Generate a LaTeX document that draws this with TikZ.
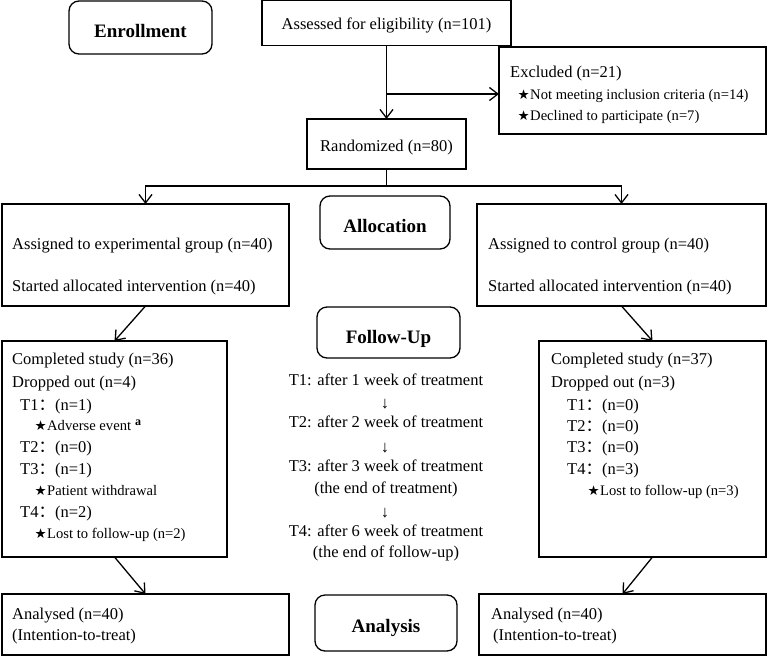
\documentclass[tikz,border=0pt]{standalone}
\usepackage{fontspec}
\setmainfont{Liberation Serif}
\newfontfamily\symf{DejaVu Sans}
\newfontfamily\cjkf{Noto Sans CJK SC}
\usetikzlibrary{arrows.meta}
\newcommand\mystar{\makebox[12pt][l]{\hspace{-0.5pt}\symf\fontsize{13.5}{13.5}\selectfont ★}}
\newcommand\fc{{\cjkf ：}}
\begin{document}
\begin{tikzpicture}[x=1pt,y=-1pt,
  box/.style={draw, line width=1.3pt, inner sep=0pt, outer sep=0pt, anchor=north west},
  rbox/.style={box, rounded corners=10pt},
  txt/.style={anchor=base west, inner sep=0pt, font=\fontsize{16.5}{19}\selectfont},
  stxt/.style={anchor=base west, inner sep=0pt, font=\fontsize{14.6}{17}\selectfont},
  ctxt/.style={anchor=base, inner sep=0pt, font=\fontsize{16.5}{19}\selectfont},
  btxt/.style={anchor=base, inner sep=0pt, font=\bfseries\fontsize{19}{22}\selectfont},
  conn/.style={line width=1.3pt},
  arr/.style={conn, -{Straight Barb[length=8.5pt,width=13pt,line width=1.3pt]}}]
\useasboundingbox (0,0) rectangle (770,656);
% boxes
\node[rbox, minimum width=143pt, minimum height=53pt] (enr) at (69,1) {};
\node[box, minimum width=249pt, minimum height=45pt] (ass) at (262,0.7) {};
\node[box, minimum width=267pt, minimum height=87pt] (exc) at (499,47) {};
\node[box, minimum width=159pt, minimum height=50pt] (ran) at (307,119) {};
\node[box, minimum width=287pt, minimum height=102pt] (exp) at (2,204) {};
\node[rbox, minimum width=130pt, minimum height=53pt] (alo) at (320,196) {};
\node[box, minimum width=289pt, minimum height=102pt] (ctl) at (477,204) {};
\node[rbox, minimum width=143pt, minimum height=51pt] (fol) at (317,307) {};
\node[box, minimum width=225pt, minimum height=216pt] (cl) at (2,341) {};
\node[box, minimum width=227pt, minimum height=216pt] (cr) at (539,341) {};
\node[box, minimum width=287pt, minimum height=61pt] (al) at (2,594) {};
\node[rbox, minimum width=142pt, minimum height=56pt] (ana) at (315,595) {};
\node[box, minimum width=287pt, minimum height=61pt] (ar) at (479,594) {};
% labels
\node[btxt] (tenr) at (140.5,37.7) {Enrollment};
\node[btxt] (talo) at (385,232) {Allocation};
\node[btxt] (tfol) at (388.5,343) {Follow-Up};
\node[btxt] (tana) at (386,632) {Analysis};
\node[ctxt] (tass) at (386.5,29) {Assessed for eligibility (n=101)};
\node[ctxt] (tran) at (386.5,151) {Randomized (n=80)};
\node[txt] (te1) at (510,77) {Excluded (n=21)};
\node[stxt] (te2) at (518,99) {\mystar Not meeting inclusion criteria (n=14)};
\node[stxt] (te3) at (518,120) {\mystar Declined to participate (n=7)};
\node[txt] (tx1) at (12,249) {Assigned to experimental group (n=40)};
\node[txt] (tx2) at (12,291.5) {Started allocated intervention (n=40)};
\node[txt] (tc1) at (488,249) {Assigned to control group (n=40)};
\node[txt] (tc2) at (488,291.5) {Started allocated intervention (n=40)};
% left completed
\node[txt] (l1) at (12,364) {Completed study (n=36)};
\node[txt] (l2) at (12,387) {Dropped out (n=4)};
\node[txt] (l3) at (20,410) {T1\fc(n=1)};
\node[stxt] (l4) at (35,430) {\mystar Adverse event\hspace{4pt}\raisebox{5pt}{\bfseries\fontsize{12}{12}\selectfont a}};
\node[txt] (l5) at (20,452.5) {T2\fc(n=0)};
\node[txt] (l6) at (20,474) {T3\fc(n=1)};
\node[stxt] (l7) at (35,495) {\mystar Patient withdrawal};
\node[txt] (l8) at (20,517) {T4\fc(n=2)};
\node[stxt] (l9) at (35,538) {\mystar Lost to follow-up (n=2)};
% right completed
\node[txt] (r1) at (551,364) {Completed study (n=37)};
\node[txt] (r2) at (551,387) {Dropped out (n=3)};
\node[txt] (r3) at (567,410) {T1\fc(n=0)};
\node[txt] (r4) at (567,431) {T2\fc(n=0)};
\node[txt] (r5) at (567,452.5) {T3\fc(n=0)};
\node[txt] (r6) at (567,474) {T4\fc(n=3)};
\node[stxt] (r7) at (588,495) {\mystar Lost to follow-up (n=3)};
% follow-up timeline
\node[ctxt] (f1) at (386,385) {T1: after 1 week of treatment};
\node[ctxt] (f2) at (385,408) {↓};
\node[ctxt] (f3) at (386,427) {T2: after 2 week of treatment};
\node[ctxt] (f4) at (385,452) {↓};
\node[ctxt] (f5) at (386,471) {T3: after 3 week of treatment};
\node[ctxt] (f6) at (386,493) {(the end of treatment)};
\node[ctxt] (f7) at (385,517) {↓};
\node[ctxt] (f8) at (386,536) {T4: after 6 week of treatment};
\node[ctxt] (f9) at (386,557) {(the end of follow-up)};
% analysed
\node[txt] (a1) at (12,619) {Analysed (n=40)};
\node[txt] (a2) at (12,640) {(Intention-to-treat)};
\node[txt] (b1) at (491,619) {Analysed (n=40)};
\node[txt] (b2) at (493,640) {(Intention-to-treat)};
% connectors
\coordinate (br) at (386.5,94);
\coordinate (sp) at (386.5,186);
\draw[arr] (ass.south) -- (ran.north);
\draw[arr] (br) -- (br -| exc.west);
\draw[conn] (ran.south) -- (sp);
\draw[arr] (sp) -| (exp.north);
\draw[arr] (sp) -| (ctl.north);
\draw[arr] (exp.south) -- (cl.north);
\draw[arr] (ctl.south) -- (cr.north);
\draw[arr] (cl.south) -- (al.north);
\draw[arr] (cr.south) -- (ar.north);
\end{tikzpicture}
\end{document}
